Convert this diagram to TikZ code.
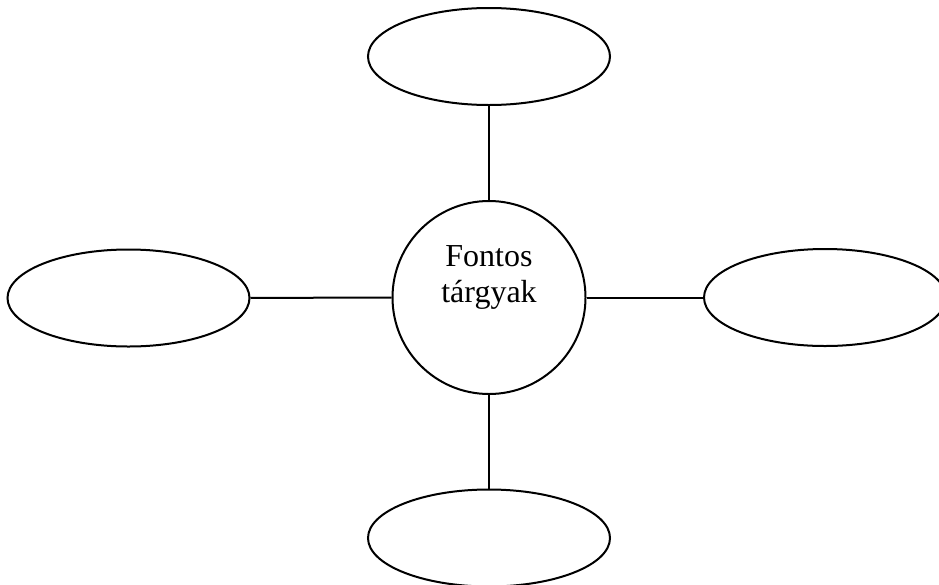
\documentclass[tikz,border=0pt]{standalone}
\usepackage{fontspec}
\setmainfont{Liberation Serif}
\usetikzlibrary{shapes.geometric}
\begin{document}
\begin{tikzpicture}[x=1pt,y=-1pt,
  oval/.style={draw=black,line width=2pt,ellipse,inner sep=0pt,minimum width=242pt,minimum height=97pt},
  hub/.style={draw=black,line width=2pt,circle,inner sep=0pt,minimum size=193pt},
  link/.style={draw=black,line width=2pt}]
\useasboundingbox (0,0) rectangle (939,584);
\fill[white] (0,0) rectangle (939,584);
\node[hub] (c) at (489,297.5) {};
\node[align=center,font=\fontsize{32}{36}\selectfont,inner sep=0pt] (t) at (489,277) {Fontos\\tárgyak};
\node[oval] (n) at (489,56.5) {};
\node[oval] (w) at (128.5,298) {};
\node[oval] (e) at (825,297.5) {};
\node[oval] (s) at (489,538) {};
\draw[link] (c) -- (n);
\draw[link] (c) -- (w);
\draw[link] (c) -- (e);
\draw[link] (c) -- (s);
\end{tikzpicture}
\end{document}
